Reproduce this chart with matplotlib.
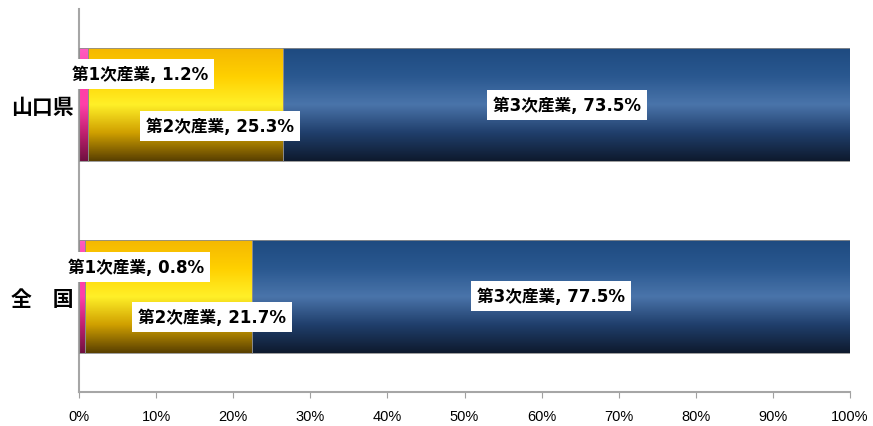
import numpy as np
import matplotlib.pyplot as plt
from matplotlib.colors import LinearSegmentedColormap
from matplotlib.patches import Rectangle

plt.rcParams['font.family'] = ['Noto Sans CJK JP', 'DejaVu Sans']

regions = ['全　国', '山口県']          # bottom to top
sectors = ['第1次産業', '第2次産業', '第3次産業']
primary = [0.8, 1.2]
secondary = [21.7, 25.3]
tertiary = [77.5, 73.5]

# gradients, top -> bottom of each bar
grad = {
    0: ['#ff5cc0', '#ff3fa8', '#ff40a8', '#c02070', '#701040'],
    1: ['#f5b800', '#ffd000', '#fff028', '#d0a000', '#5a4000'],
    2: ['#1e4a80', '#2a5890', '#4a74aa', '#203f6c', '#0e1a2e'],
}

fig = plt.figure(figsize=(8.73, 4.27), dpi=100)
ax = fig.add_axes([0.0905, 0.0796, 0.8832, 0.897])

bar_h = 0.59
vals = np.array([primary, secondary, tertiary])  # sector x region
starts = np.vstack([np.zeros(2), np.cumsum(vals, axis=0)[:-1]])

for s in range(3):
    cmap = LinearSegmentedColormap.from_list('g%d' % s, grad[s])
    img = cmap(np.linspace(0, 1, 200))[:, None, :3]
    for r in range(2):
        x0 = starts[s, r]
        w = vals[s, r]
        y0 = r - bar_h / 2
        ax.imshow(img, extent=[x0, x0 + w, y0, y0 + bar_h], aspect='auto',
                  origin='upper', interpolation='bilinear', zorder=2)
        ax.add_patch(Rectangle((x0, y0), w, bar_h, fill=False,
                               edgecolor='#8c8c8c', lw=0.6, zorder=3))

# data labels (offsets from bar centre, in data units)
box = dict(boxstyle='square,pad=0.35', fc='white', ec='none')
lab_dx = {0: [7.0, 7.3], 1: [5.6, 4.4], 2: [0, 0]}
lab_dy = {0: [0.153, 0.16], 1: [-0.108, -0.111], 2: [0, 0]}
for s in range(3):
    for r in range(2):
        cx = starts[s, r] + vals[s, r] / 2 + lab_dx[s][r]
        cy = r + lab_dy[s][r]
        ax.text(cx, cy, '%s, %.1f%%' % (sectors[s], vals[s, r]),
                ha='center', va='center', fontsize=12, fontweight='bold',
                family=['DejaVu Sans', 'Noto Sans CJK JP'],
                bbox=box, zorder=5)

ax.set_xlim(0, 100)
ax.set_ylim(-0.5, 1.5)
ax.set_xticks(np.arange(0, 101, 10))
ax.set_xticklabels(['%d%%' % v for v in range(0, 101, 10)], fontsize=10.5,
                   family=['Liberation Sans Narrow', 'Liberation Sans', 'DejaVu Sans'])
ax.set_yticks([0, 1])
ax.set_yticklabels(regions, fontsize=15, fontweight='bold')
ax.tick_params(axis='y', length=0, pad=4)
ax.tick_params(axis='x', length=4, color='#a0a0a0', pad=8)
for sp in ['top', 'right']:
    ax.spines[sp].set_visible(False)
for sp in ['left', 'bottom']:
    ax.spines[sp].set_color('#a6a6a6')
    ax.spines[sp].set_linewidth(1.5)

fig.savefig('out.png', dpi=100)
